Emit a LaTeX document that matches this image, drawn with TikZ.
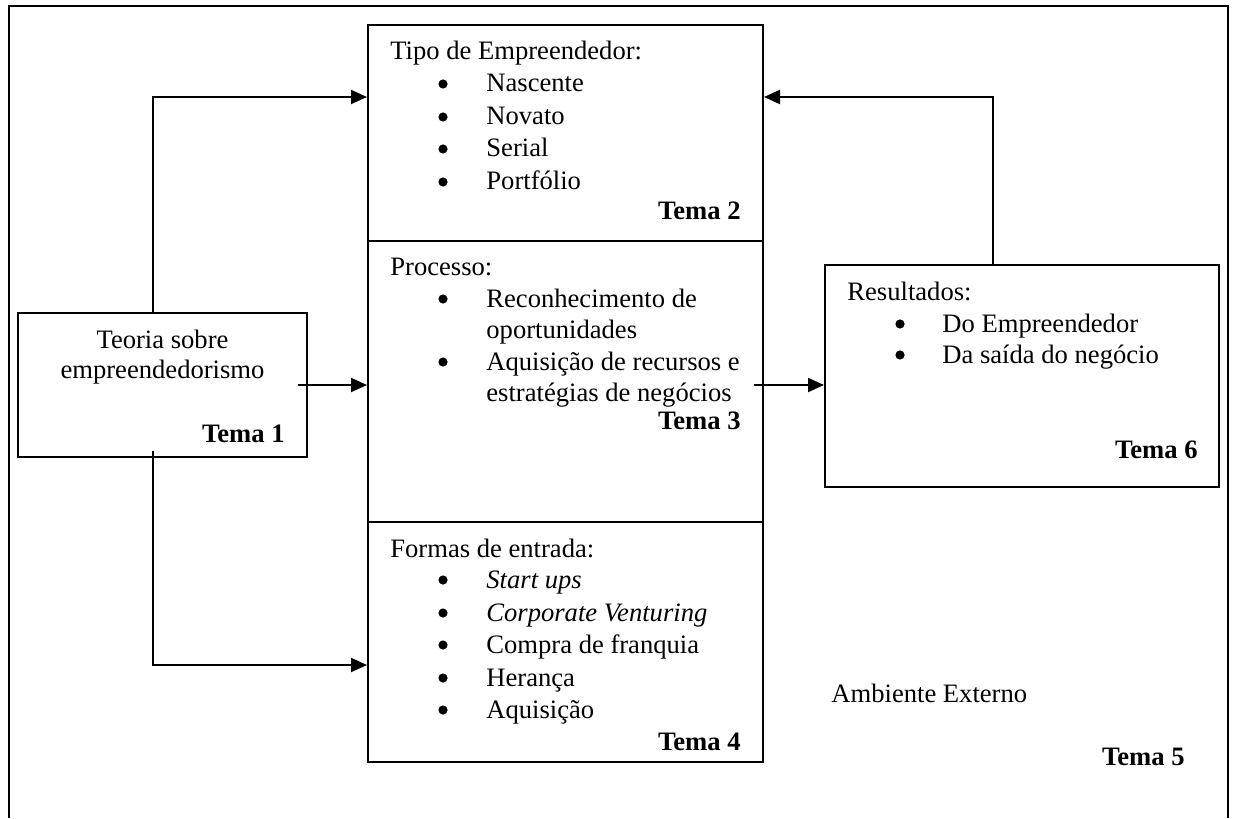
\documentclass[tikz,border=0pt]{standalone}
\usepackage{fontspec}
\setmainfont{Liberation Serif}
\usepackage{tikz}
\usetikzlibrary{arrows.meta, fit}
\tikzstyle{arrow} = [line width=1pt,-{Triangle[length=8pt,width=7pt]}]
\tikzstyle{box} = [draw, line width=1pt, inner sep=0pt]
\tikzstyle{txt} = [anchor=base west, inner sep=0pt]
\tikzstyle{mid} = [anchor=base, inner sep=0pt]
\tikzstyle{bul} = [circle, fill, inner sep=0pt, minimum size=4.6pt, yshift=4pt]
\tikzstyle{tema} = [anchor=base east, inner sep=0pt, font=\fontsize{13.3}{16}\selectfont\bfseries]

\begin{document}
\begin{tikzpicture}[x=0.5pt, y=-0.5pt, every node/.append style={font=\fontsize{13.3}{16}\selectfont}]
        \useasboundingbox (0,0) rectangle (1234,818);
        % Ambiente externo (frame)
        \draw[line width=1pt] (9,818) -- (9,6) -- (1228,6) -- (1228,818);

        % Boxes
        \node[box, fit={(18,313)(307,457)}] (t1) {};
        \node[box, fit={(368,25)(763,241)}] (t2) {};
        \node[box, fit={(368,241)(763,522)}] (t3) {};
        \node[box, fit={(368,522)(763,762)}] (t4) {};
        \node[box, fit={(825,265)(1219,487)}] (t6) {};

        % Tema 1
        \node[mid] (t1a) at (162.5,348) {Teoria sobre};
        \node[mid] (t1b) at (162.5,378) {empreendedorismo};
        \node[tema] (t1c) at (285,442) {Tema 1};

        % Tema 2
        \node[txt] (t2h) at (390,60) {Tipo de Empreendedor:};
        \node[bul] (b21) at (443,92) {};
        \node[txt] (t21) at (486,92) {Nascente};
        \node[bul] (b22) at (443,125) {};
        \node[txt] (t22) at (486,125) {Novato};
        \node[bul] (b23) at (443,157) {};
        \node[txt] (t23) at (486,157) {Serial};
        \node[bul] (b24) at (443,190) {};
        \node[txt] (t24) at (486,190) {Portfólio};
        \node[tema] (t2c) at (741,220) {Tema 2};

        % Tema 3
        \node[txt] (t3h) at (390,275) {Processo:};
        \node[bul] (b31) at (443,307) {};
        \node[txt] (t31) at (486,307) {Reconhecimento de};
        \node[txt] (t32) at (486,338) {oportunidades};
        \node[bul] (b33) at (443,370) {};
        \node[txt] (t33) at (486,370) {Aquisição de recursos e};
        \node[txt] (t34) at (486,401) {estratégias de negócios};
        \node[tema] (t3c) at (741,429) {Tema 3};

        % Tema 4
        \node[txt] (t4h) at (390,557) {Formas de entrada:};
        \node[bul] (b41) at (443,588) {};
        \node[txt] (t41) at (486,588) {\itshape Start ups};
        \node[bul] (b42) at (443,621) {};
        \node[txt] (t42) at (486,621) {\itshape Corporate Venturing};
        \node[bul] (b43) at (443,653) {};
        \node[txt] (t43) at (486,653) {Compra de franquia};
        \node[bul] (b44) at (443,686) {};
        \node[txt] (t44) at (486,686) {Herança};
        \node[bul] (b45) at (443,718) {};
        \node[txt] (t45) at (486,718) {Aquisição};
        \node[tema] (t4c) at (741,750) {Tema 4};

        % Tema 6
        \node[txt] (t6h) at (847,300) {Resultados:};
        \node[bul] (b61) at (900,332) {};
        \node[txt] (t61) at (942,332) {Do Empreendedor};
        \node[bul] (b62) at (900,363) {};
        \node[txt] (t62) at (942,363) {Da saída do negócio};
        \node[tema] (t6c) at (1198,458) {Tema 6};

        % Tema 5
        \node[txt] (t5h) at (831,702) {Ambiente Externo};
        \node[tema] (t5c) at (1185,765) {Tema 5};

        % Connectors
        \coordinate (c1) at (153,97);
        \coordinate (c2) at (153,665);
        \coordinate (c3) at (993,97);
        \coordinate (r1) at ([xshift=-5pt]t1.east);
        \coordinate (r3) at ([xshift=-5pt]t3.east);
        \draw[arrow] (t1.north -| c1) -- (c1) -- (c1 -| t2.west);
        \draw[arrow] ([yshift=3.5pt]t1.south -| c2) -- (c2) -- (c2 -| t4.west);
        \draw[arrow] (r1) -- (r1 -| t3.west);
        \draw[arrow] (r3 |- r1) -- (r1 -| t6.west);
        \draw[arrow] (t6.north -| c3) -- (c3) -- (c3 -| t2.east);
\end{tikzpicture}
\end{document}
